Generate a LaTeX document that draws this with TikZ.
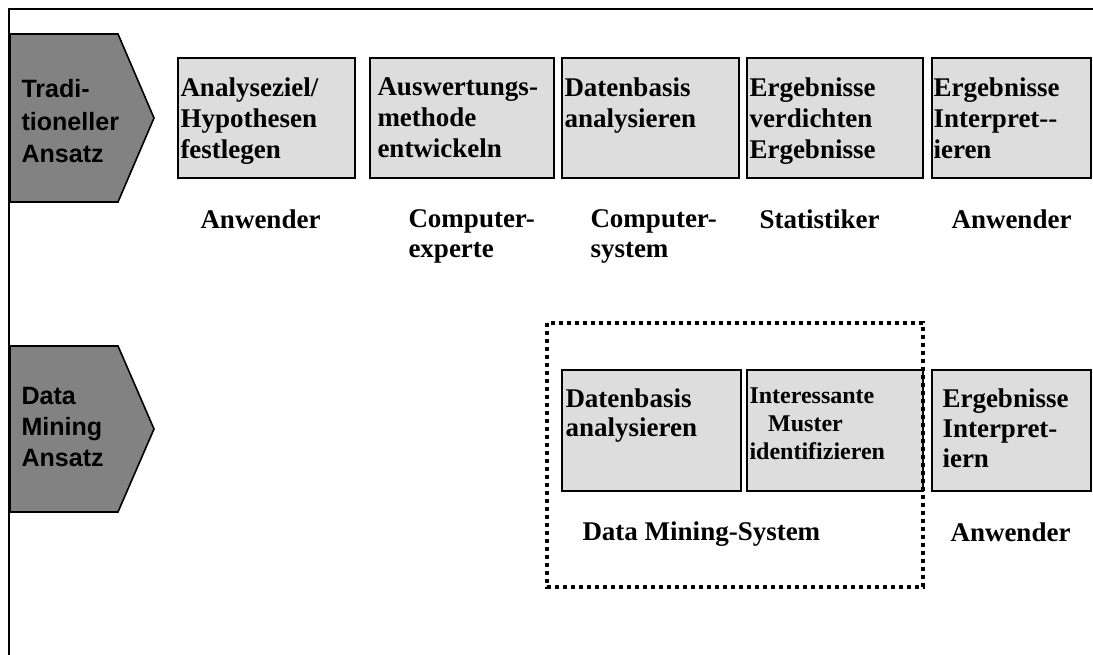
\documentclass[tikz,border=0pt]{standalone}
\usepackage{fontspec}
\setmainfont{Liberation Serif}
\newfontfamily\arialfont{Liberation Sans}
\definecolor{boxgray}{RGB}{221,221,221}
\definecolor{ansatzgray}{RGB}{130,130,130}
\tikzset{every picture/.style={line width=0.75pt},
  phase/.style={draw=black, fill=boxgray, line width=1.4pt},
  ansatz/.style={draw=black, fill=ansatzgray, line width=1.2pt, line join=miter},
  phasetext/.style={anchor=north west, inner sep=0pt, align=left, font=\bfseries\fontsize{20.25}{23.25}\selectfont},
  rolle/.style={anchor=north west, inner sep=0pt, align=left, font=\bfseries\fontsize{20.25}{22.5}\selectfont},
  ansatztext/.style={anchor=north west, inner sep=0pt, align=left, font=\arialfont\bfseries\fontsize{18.8}{24.4}\selectfont}}

\begin{document}
\begin{tikzpicture}[x=0.75pt,y=0.75pt,yscale=-1,xscale=1]
\useasboundingbox (0,0) rectangle (1093,655);

%Frame
\draw [line width=1.5pt] (1093,9) -- (9,9) -- (9,655) ;

%Shape: Pentagon traditionell
\draw [ansatz] (10,34) -- (118,34) -- (154,118) -- (118,202) -- (10,202) -- cycle ;
%Shape: Pentagon data mining
\draw [ansatz] (10,346) -- (118,346) -- (154,429) -- (118,512) -- (10,512) -- cycle ;

%Shape: Rectangles upper row
\draw [phase] (178,58) rectangle (355,178) ;
\draw [phase] (370,58) rectangle (554,178) ;
\draw [phase] (562,58) rectangle (739,178) ;
\draw [phase] (747,58) rectangle (923,178) ;
\draw [phase] (932,58) rectangle (1091,178) ;

%Shape: Rectangles lower row
\draw [phase] (562,370) rectangle (741,491) ;
\draw [phase] (747,370) rectangle (923,491) ;
\draw [phase] (932,370) rectangle (1091,491) ;

%Dotted frame Data Mining-System
\draw [line width=3pt, dash pattern=on 3pt off 3pt] (547,323) rectangle (923,587) ;

% Text Node
\node (trad) [ansatztext] at (21,79) {Tradi-\\tioneller\\Ansatz};
% Text Node
\node (dmin) [ansatztext, font=\arialfont\bfseries\fontsize{18.8}{23.25}\selectfont] at (21,387) {Data\\Mining\\Ansatz};

% Text Node
\node (ziel) [phasetext] at (180,77) {Analyseziel/\\Hypothesen\\festlegen};
% Text Node
\node (meth) [phasetext] at (377,77) {Auswertungs-\\methode\\entwickeln};
% Text Node
\node (daten) [phasetext] at (564,77) {Datenbasis\\analysieren};
% Text Node
\node (verd) [phasetext] at (749,77) {Ergebnisse\\verdichten\\Ergebnisse};
% Text Node
\node (interp) [phasetext] at (933,77) {Ergebnisse\\Interpret-{}-\\ieren};

% Text Node
\node (anw) [rolle] at (200,209) {Anwender};
% Text Node
\node (cexp) [rolle] at (408,209) {Computer-\\experte};
% Text Node
\node (csys) [rolle] at (590,209) {Computer-\\system};
% Text Node
\node (stat) [rolle] at (759,209) {Statistiker};
% Text Node
\node (anwb) [rolle] at (951,209) {Anwender};

% Text Node
\node (dmdaten) [phasetext, font=\bfseries\fontsize{20.25}{22}\selectfont] at (565,388) {Datenbasis\\analysieren};
% Text Node
\node (muster) [phasetext, font=\bfseries\fontsize{18}{21}\selectfont] at (749,387) {Interessante\\\hspace*{14pt}Muster\\identifizieren};
% Text Node
\node (dminterp) [phasetext, font=\bfseries\fontsize{20.25}{22.5}\selectfont] at (942,388) {Ergebnisse\\Interpret-\\iern};

% Text Node
\node (dmsys) [rolle] at (582,521) {Data Mining-System};
% Text Node
\node (anwc) [rolle] at (950,522) {Anwender};

\end{tikzpicture}
\end{document}
